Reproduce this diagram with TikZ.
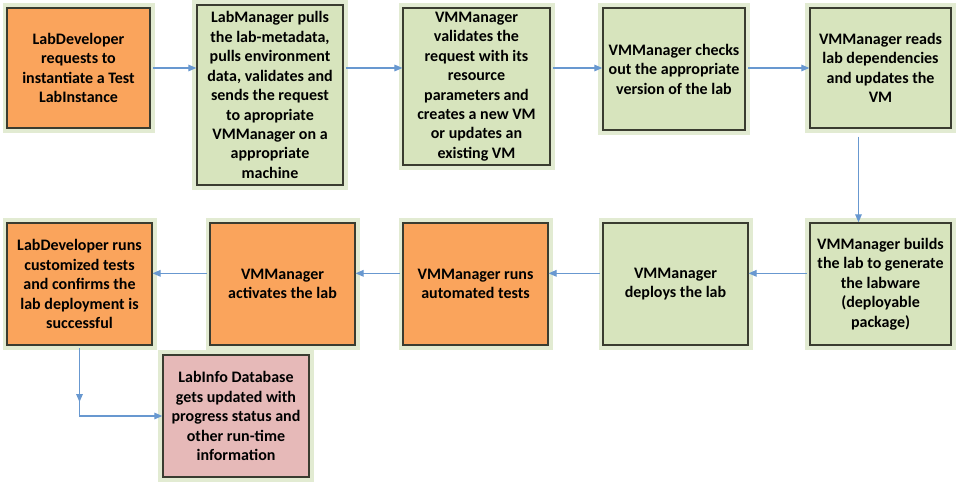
\documentclass[tikz,border=0pt]{standalone}
\usepackage{fontspec}
\setmainfont{Carlito}
\usepackage{tikz}
\usetikzlibrary{shapes,arrows,arrows.meta}

\definecolor{greenfill}{RGB}{215,228,189}
\definecolor{orangefill}{RGB}{250,164,92}
\definecolor{pinkfill}{RGB}{230,185,184}
\definecolor{edgegray}{RGB}{58,60,48}
\definecolor{glowgreen}{RGB}{226,235,210}
\definecolor{flowblue}{RGB}{104,152,208}

\begin{document}
\begin{tikzpicture}[x=0.75pt,y=-0.75pt,draw=black!100]
 	\def \rowoneht{68}
 	\def \rowtwoht{284}
 	\useasboundingbox (0,0) rectangle (962,484);
 	\tikzstyle{box}=[rectangle,draw=edgegray,line width=1.1pt,inner sep=0pt,align=center,
 		minimum width=108.5pt,minimum height=91.5pt,
 		font=\fontsize{12}{14.6}\selectfont\bfseries,
 		preaction={draw=glowgreen,line width=7pt}]
 	\tikzstyle{g-node}=[box,fill=greenfill]
 	\tikzstyle{o-node}=[box,fill=orangefill]
 	\tikzstyle{p-node}=[box,fill=pinkfill]
 	\tikzstyle{flow}=[color=flowblue,line width=0.8pt,-{Triangle[length=6pt,width=5pt]},shorten <=2pt]
 	% top row
 	\node[o-node,minimum width=107pt,minimum height=90pt] 	(s1)	at (78.5,\rowoneht)	{LabDeveloper\\requests to\\instantiate a Test\\LabInstance};
 	\node[g-node,minimum width=109.5pt,minimum height=135pt] 	(s2)	at (270,95)	{LabManager pulls\\the lab-metadata,\\pulls environment\\data, validates and\\sends the request\\to apropriate\\VMManager on a\\appropriate\\machine};
 	\node[g-node,minimum width=110pt,minimum height=118pt] 	(s3)	at (476.5,86.5)	{VMManager\\validates the\\request with its\\resource\\parameters and\\creates a new VM\\or updates an\\existing VM};
 	\node[g-node,minimum width=106.5pt] 	(s4)	at (674,69)	{VMManager checks\\out the appropriate\\version of the lab};
 	\node[g-node,minimum width=105.75pt,minimum height=90pt] 	(s5)	at (880.5,\rowoneht)	{VMManager reads\\lab dependencies\\and updates the\\VM};
 	% bottom row
 	\node[g-node,minimum width=105.75pt] 	(s6)	at (880.5,\rowtwoht)	{VMManager builds\\the lab to generate\\the labware\\(deployable\\package)};
 	\node[g-node] 	(s7)	at (675.5,\rowtwoht)	{VMManager\\deploys the lab};
 	\node[o-node] 	(s8)	at (475.5,\rowtwoht)	{VMManager runs\\automated tests};
 	\node[o-node] 	(s9)	at (282.5,\rowtwoht)	{VMManager\\activates the lab};
 	\node[o-node] 	(s10)	at (79.5,\rowtwoht)	{LabDeveloper runs\\customized tests\\and confirms the\\lab deployment is\\successful};
 	% database
 	\node[p-node,minimum width=109.5pt] 	(s11)	at (236,416)	{LabInfo Database\\gets updated with\\progress status and\\other run-time\\information};
 	\path[flow] (s1.east)	edge	(s2.west |- s1.east)
		(s2.east |- s1.east)	edge	(s3.west |- s1.east)
		(s3.east |- s1.east)	edge	(s4.west |- s1.east)
		(s4.east |- s1.east)	edge	(s5.west |- s1.east)

		([xshift=-16.5pt]s5.south)	edge[shorten <=6pt]	([xshift=-16.5pt]s6.north)

		([yshift=8pt]s6.west)	edge	([yshift=8pt]s7.east)
		([yshift=8pt]s7.west)	edge	([yshift=8pt]s8.east)
		([yshift=8pt]s8.west)	edge	([yshift=8pt]s9.east)
		([yshift=8pt]s9.west)	edge	([yshift=8pt]s10.east);
 	\draw[flow] (s10.south) -- ([yshift=10.5pt]s10.south |- s11.west);
 	\draw[flow] (s10.south) -- (s10.south |- s11.west) -- (s11.west);
\end{tikzpicture}
\end{document}
